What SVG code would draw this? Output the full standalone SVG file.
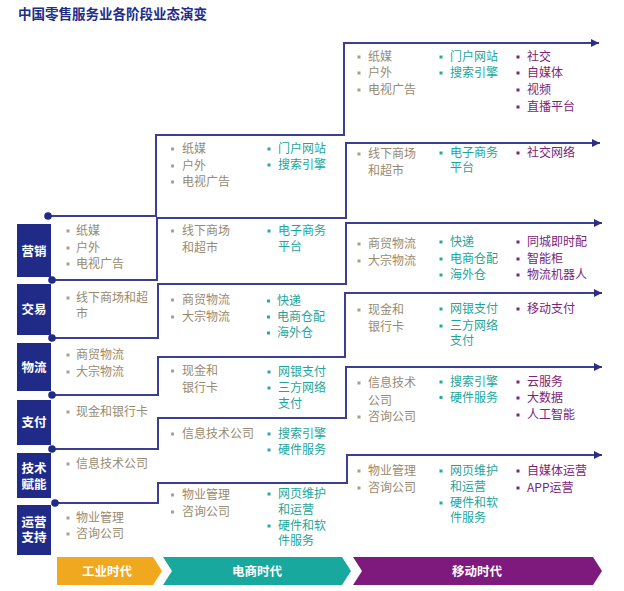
<svg xmlns="http://www.w3.org/2000/svg" width="624" height="591" viewBox="0 0 624 591">
<style>
text{font-family:"Noto Sans CJK SC","Noto Sans",sans-serif;font-size:12px}
.title{font-size:13.5px;font-weight:bold;fill:#1e2c8a}
.lab{font-size:12.5px;font-weight:bold;fill:#ffffff;text-anchor:middle}
.box{fill:#1f2b87}
.tan{fill:#988a6f}
.teal{fill:#1ea59b}
.pur{fill:#7b2478}
.btan{fill:#a8a08f}
.bteal{fill:#2aa89e}
.bpur{fill:#7b2478}
.ln{fill:none;stroke:#3b3e91;stroke-width:2}
.dot{fill:#1f2b87}
.era{font-size:12.5px;font-weight:bold;fill:#ffffff;text-anchor:middle}
</style>
<defs>
<marker id="ah" markerUnits="userSpaceOnUse" markerWidth="9" markerHeight="9" refX="8" refY="4" orient="auto">
<path d="M0,0 L8,4 L0,8 z" fill="#2a2f85"/>
</marker>
</defs>
<rect width="624" height="591" fill="#ffffff"/>
<text class="title" x="18" y="19">中国零售服务业各阶段业态演变</text>

<g id="connectors">
<path class="ln" marker-end="url(#ah)" d="M48,216 H156 V135 H344 V43 H599"/>
<path class="ln" marker-end="url(#ah)" d="M52,280 H157 V218 H346 V143 H600"/>
<path class="ln" marker-end="url(#ah)" d="M52,338 H158 V284 H346 V223 H602"/>
<path class="ln" marker-end="url(#ah)" d="M52,395 H158 V357 H345 V293 H602"/>
<path class="ln" marker-end="url(#ah)" d="M52,449 H158 V418 H346 V367 H602"/>
<path class="ln" marker-end="url(#ah)" d="M55,503 H158 V483 H347 V455 H602"/>
<circle class="dot" cx="48" cy="216" r="3.8"/>
<circle class="dot" cx="52" cy="280" r="3.8"/>
<circle class="dot" cx="52" cy="338" r="3.8"/>
<circle class="dot" cx="52" cy="395" r="3.8"/>
<circle class="dot" cx="52" cy="449" r="3.8"/>
<circle class="dot" cx="55" cy="503" r="3.8"/>
</g>

<g id="label-yingxiao"><rect class="box" x="17" y="224" width="34" height="53"/><text class="lab" x="34" y="255.5">营销</text></g>
<g id="label-jiaoyi"><rect class="box" x="17" y="284" width="34" height="51"/><text class="lab" x="34" y="314">交易</text></g>
<g id="label-wuliu"><rect class="box" x="17" y="343" width="34" height="48"/><text class="lab" x="34" y="371.5">物流</text></g>
<g id="label-zhifu"><rect class="box" x="17" y="400" width="34" height="45"/><text class="lab" x="34" y="427">支付</text></g>
<g id="label-jishu"><rect class="box" x="17" y="453" width="34" height="45"/><text class="lab" x="34" y="472.5">技术</text><text class="lab" x="34" y="488.5">赋能</text></g>
<g id="label-yunying"><rect class="box" x="17" y="505" width="34" height="50"/><text class="lab" x="34" y="526.5">运营</text><text class="lab" x="34" y="542">支持</text></g>

<!-- Column 1: industrial era -->
<g id="c1-yingxiao">
<rect class="btan" x="66.5" y="229.5" width="3" height="3"/><text class="tan" x="76" y="235.3">纸媒</text>
<rect class="btan" x="66.5" y="246.5" width="3" height="3"/><text class="tan" x="76" y="252.3">户外</text>
<rect class="btan" x="66.5" y="262.5" width="3" height="3"/><text class="tan" x="76" y="268.3">电视广告</text>
</g>
<g id="c1-jiaoyi">
<rect class="btan" x="66.5" y="296.5" width="3" height="3"/><text class="tan" x="76" y="302.3">线下商场和超</text>
<text class="tan" x="76" y="318.3">市</text>
</g>
<g id="c1-wuliu">
<rect class="btan" x="66.5" y="353.5" width="3" height="3"/><text class="tan" x="76" y="359.3">商贸物流</text>
<rect class="btan" x="66.5" y="370.5" width="3" height="3"/><text class="tan" x="76" y="376.3">大宗物流</text>
</g>
<g id="c1-zhifu">
<rect class="btan" x="66.5" y="410.5" width="3" height="3"/><text class="tan" x="76" y="416.3">现金和银行卡</text>
</g>
<g id="c1-jishu">
<rect class="btan" x="66.5" y="462.5" width="3" height="3"/><text class="tan" x="76" y="468.3">信息技术公司</text>
</g>
<g id="c1-yunying">
<rect class="btan" x="66.5" y="516.5" width="3" height="3"/><text class="tan" x="76" y="522.3">物业管理</text>
<rect class="btan" x="66.5" y="532.5" width="3" height="3"/><text class="tan" x="76" y="538.3">咨询公司</text>
</g>

<!-- Column 2: e-commerce era -->
<g id="c2-yingxiao">
<rect class="btan" x="171" y="147.5" width="3" height="3"/><text class="tan" x="182" y="153.3">纸媒</text>
<rect class="btan" x="171" y="164.5" width="3" height="3"/><text class="tan" x="182" y="170.3">户外</text>
<rect class="btan" x="171" y="180.5" width="3" height="3"/><text class="tan" x="182" y="186.3">电视广告</text>
<rect class="bteal" x="267.5" y="147.5" width="3" height="3"/><text class="teal" x="278" y="153.3">门户网站</text>
<rect class="bteal" x="267.5" y="163.5" width="3" height="3"/><text class="teal" x="278" y="169.3">搜索引擎</text>
</g>
<g id="c2-jiaoyi">
<rect class="btan" x="171" y="229.5" width="3" height="3"/><text class="tan" x="182" y="235.3">线下商场</text>
<text class="tan" x="182" y="252.3">和超市</text>
<rect class="bteal" x="267.5" y="229.5" width="3" height="3"/><text class="teal" x="278" y="235.3">电子商务</text>
<text class="teal" x="278" y="251">平台</text>
</g>
<g id="c2-wuliu">
<rect class="btan" x="171" y="298.5" width="3" height="3"/><text class="tan" x="182" y="304.3">商贸物流</text>
<rect class="btan" x="171" y="315.5" width="3" height="3"/><text class="tan" x="182" y="321.3">大宗物流</text>
<rect class="bteal" x="267" y="299.5" width="3" height="3"/><text class="teal" x="277" y="305.3">快递</text>
<rect class="bteal" x="267" y="315.5" width="3" height="3"/><text class="teal" x="277" y="321.3">电商仓配</text>
<rect class="bteal" x="267" y="331.5" width="3" height="3"/><text class="teal" x="277" y="337.3">海外仓</text>
</g>
<g id="c2-zhifu">
<rect class="btan" x="171" y="369.5" width="3" height="3"/><text class="tan" x="182" y="375.3">现金和</text>
<text class="tan" x="182" y="392.3">银行卡</text>
<rect class="bteal" x="267.5" y="370.5" width="3" height="3"/><text class="teal" x="278" y="376.3">网银支付</text>
<rect class="bteal" x="267.5" y="386.5" width="3" height="3"/><text class="teal" x="278" y="392.3">三方网络</text>
<text class="teal" x="278" y="407.5">支付</text>
</g>
<g id="c2-jishu">
<rect class="btan" x="171" y="432.5" width="3" height="3"/><text class="tan" x="182" y="438.3">信息技术公司</text>
<rect class="bteal" x="267.5" y="432.5" width="3" height="3"/><text class="teal" x="278" y="438.3">搜索引擎</text>
<rect class="bteal" x="267.5" y="448.5" width="3" height="3"/><text class="teal" x="278" y="454.3">硬件服务</text>
</g>
<g id="c2-yunying">
<rect class="btan" x="171" y="493.5" width="3" height="3"/><text class="tan" x="182" y="499.3">物业管理</text>
<rect class="btan" x="171" y="510.5" width="3" height="3"/><text class="tan" x="182" y="516.3">咨询公司</text>
<rect class="bteal" x="267.5" y="492.5" width="3" height="3"/><text class="teal" x="278" y="498.3">网页维护</text>
<text class="teal" x="278" y="513.5">和运营</text>
<rect class="bteal" x="267.5" y="524.5" width="3" height="3"/><text class="teal" x="278" y="530.3">硬件和软</text>
<text class="teal" x="278" y="545">件服务</text>
</g>

<!-- Column 3: mobile era -->
<g id="c3-yingxiao">
<rect class="btan" x="357.5" y="55.5" width="3" height="3"/><text class="tan" x="368" y="61.3">纸媒</text>
<rect class="btan" x="357.5" y="71.5" width="3" height="3"/><text class="tan" x="368" y="77.3">户外</text>
<rect class="btan" x="357.5" y="88.5" width="3" height="3"/><text class="tan" x="368" y="94.3">电视广告</text>
<rect class="bteal" x="439.5" y="55.5" width="3" height="3"/><text class="teal" x="450" y="61.3">门户网站</text>
<rect class="bteal" x="439.5" y="71.5" width="3" height="3"/><text class="teal" x="450" y="77.3">搜索引擎</text>
<rect class="bpur" x="516.5" y="55.5" width="3" height="3"/><text class="pur" x="527" y="61.3">社交</text>
<rect class="bpur" x="516.5" y="71.5" width="3" height="3"/><text class="pur" x="527" y="77.3">自媒体</text>
<rect class="bpur" x="516.5" y="88.5" width="3" height="3"/><text class="pur" x="527" y="94.3">视频</text>
<rect class="bpur" x="516.5" y="105.5" width="3" height="3"/><text class="pur" x="527" y="111.3">直播平台</text>
</g>
<g id="c3-jiaoyi">
<rect class="btan" x="357.5" y="152.5" width="3" height="3"/><text class="tan" x="368" y="158.3">线下商场</text>
<text class="tan" x="368" y="175.3">和超市</text>
<rect class="bteal" x="439.5" y="151.5" width="3" height="3"/><text class="teal" x="450" y="157.3">电子商务</text>
<text class="teal" x="450" y="171.5">平台</text>
<rect class="bpur" x="516.5" y="151.5" width="3" height="3"/><text class="pur" x="527" y="157.3">社交网络</text>
</g>
<g id="c3-wuliu">
<rect class="btan" x="357.5" y="242.5" width="3" height="3"/><text class="tan" x="368" y="248.3">商贸物流</text>
<rect class="btan" x="357.5" y="259.5" width="3" height="3"/><text class="tan" x="368" y="265.3">大宗物流</text>
<rect class="bteal" x="439.5" y="240.5" width="3" height="3"/><text class="teal" x="450" y="246.3">快递</text>
<rect class="bteal" x="439.5" y="257.5" width="3" height="3"/><text class="teal" x="450" y="263.3">电商仓配</text>
<rect class="bteal" x="439.5" y="273.5" width="3" height="3"/><text class="teal" x="450" y="279.3">海外仓</text>
<rect class="bpur" x="516.5" y="240.5" width="3" height="3"/><text class="pur" x="527" y="246.3">同城即时配</text>
<rect class="bpur" x="516.5" y="257.5" width="3" height="3"/><text class="pur" x="527" y="263.3">智能柜</text>
<rect class="bpur" x="516.5" y="273.5" width="3" height="3"/><text class="pur" x="527" y="279.3">物流机器人</text>
</g>
<g id="c3-zhifu">
<rect class="btan" x="357.5" y="308.5" width="3" height="3"/><text class="tan" x="368" y="314.3">现金和</text>
<text class="tan" x="368" y="331.3">银行卡</text>
<rect class="bteal" x="439.5" y="307.5" width="3" height="3"/><text class="teal" x="450" y="313.3">网银支付</text>
<rect class="bteal" x="439.5" y="324.5" width="3" height="3"/><text class="teal" x="450" y="330.3">三方网络</text>
<text class="teal" x="450" y="345">支付</text>
<rect class="bpur" x="516.5" y="307.5" width="3" height="3"/><text class="pur" x="527" y="313.3">移动支付</text>
</g>
<g id="c3-jishu">
<rect class="btan" x="357.5" y="381.5" width="3" height="3"/><text class="tan" x="368" y="387.3">信息技术</text>
<text class="tan" x="368" y="405.3">公司</text>
<rect class="btan" x="357.5" y="415.5" width="3" height="3"/><text class="tan" x="368" y="421.3">咨询公司</text>
<rect class="bteal" x="439.5" y="380.5" width="3" height="3"/><text class="teal" x="450" y="386.3">搜索引擎</text>
<rect class="bteal" x="439.5" y="396" width="3" height="3"/><text class="teal" x="450" y="401.8">硬件服务</text>
<rect class="bpur" x="516.5" y="380.5" width="3" height="3"/><text class="pur" x="527" y="386.3">云服务</text>
<rect class="bpur" x="516.5" y="396.5" width="3" height="3"/><text class="pur" x="527" y="402.3">大数据</text>
<rect class="bpur" x="516.5" y="413.5" width="3" height="3"/><text class="pur" x="527" y="419.3">人工智能</text>
</g>
<g id="c3-yunying">
<rect class="btan" x="357.5" y="469.5" width="3" height="3"/><text class="tan" x="368" y="475.3">物业管理</text>
<rect class="btan" x="357.5" y="486.5" width="3" height="3"/><text class="tan" x="368" y="492.3">咨询公司</text>
<rect class="bteal" x="439.5" y="469.5" width="3" height="3"/><text class="teal" x="450" y="475.3">网页维护</text>
<text class="teal" x="450" y="490.5">和运营</text>
<rect class="bteal" x="439.5" y="501.5" width="3" height="3"/><text class="teal" x="450" y="507.3">硬件和软</text>
<text class="teal" x="450" y="522">件服务</text>
<rect class="bpur" x="516.5" y="469.5" width="3" height="3"/><text class="pur" x="527" y="475.3">自媒体运营</text>
<rect class="bpur" x="516.5" y="486.5" width="3" height="3"/><text class="pur" x="527" y="492.3">APP运营</text>
</g>

<!-- Era bar -->
<g id="era-industrial"><polygon points="57,557 153,557 162,571 153,585 57,585" fill="#f0a81e"/><text class="era" x="107" y="575.5">工业时代</text></g>
<g id="era-ecommerce"><polygon points="163,557 342,557 351,571 342,585 163,585 172,571" fill="#19a89d"/><text class="era" x="257" y="575.5">电商时代</text></g>
<g id="era-mobile"><polygon points="353,557 593,557 602,571 593,585 353,585 362,571" fill="#7e1a7e"/><text class="era" x="477" y="575.5">移动时代</text></g>
</svg>
